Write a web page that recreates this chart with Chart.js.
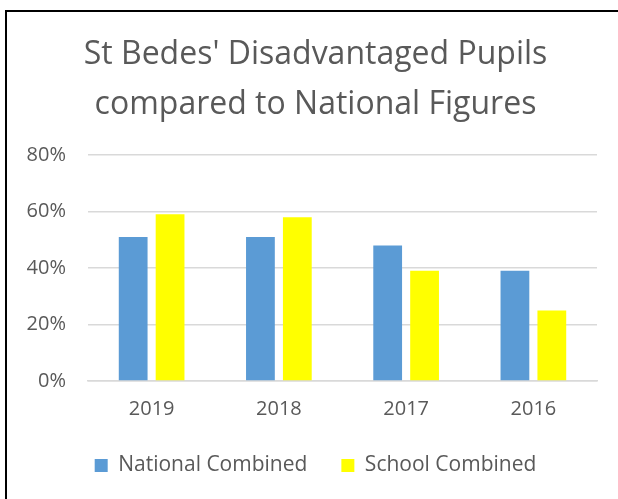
<!DOCTYPE html>
<html>
<head>
<meta charset="utf-8">
<script src="https://cdn.jsdelivr.net/npm/chart.js@4.4.1/dist/chart.umd.min.js"></script>
<style>
  html, body { margin: 0; padding: 0; background: #fff; overflow: hidden; }
  #frame { position: absolute; left: 5px; top: 10px; width: 700px; height: 600px; border: 2px solid #000; }
  #chart { position: absolute; left: 0; top: 0; }
</style>
</head>
<body>
<div id="frame"></div>
<canvas id="chart" width="618" height="499"></canvas>
<script>
// Chart data
const titleLines = ["St Bedes' Disadvantaged Pupils", 'compared to National Figures'];
const years = ['2019', '2018', '2017', '2016'];
const nationalCombined = [51, 51, 48, 39];
const schoolCombined = [59, 58, 39, 25];
const yTicks = [0, 20, 40, 60, 80];

const textColor = '#595959';
const gridColor = '#d9d9d9';
const fontFamily = "'Open Sans', sans-serif";

new Chart(document.getElementById('chart'), {
  type: 'bar',
  data: {
    labels: years,
    datasets: [
      {
        label: 'National Combined',
        data: nationalCombined,
        backgroundColor: '#5B9BD5',
        categoryPercentage: 0.58,
        barPercentage: 0.78,
      },
      {
        label: 'School Combined',
        data: schoolCombined,
        backgroundColor: '#FFFF00',
        categoryPercentage: 0.58,
        barPercentage: 0.78,
      },
    ],
  },
  options: {
    responsive: false,
    devicePixelRatio: 1,
    animation: false,
    layout: { padding: { top: 10, left: 27, right: 14, bottom: 13 } },
    plugins: {
      title: {
        display: true,
        text: titleLines,
        color: textColor,
        font: { family: fontFamily, size: 32, weight: 'normal', lineHeight: 1.5625 },
        padding: { top: 20, bottom: 25 },
      },
      legend: {
        position: 'bottom',
        labels: {
          color: textColor,
          font: { family: fontFamily, size: 21 },
          boxWidth: 13,
          boxHeight: 13,
          padding: 34,
        },
      },
      tooltip: { enabled: false },
    },
    scales: {
      x: {
        grid: { display: false, drawTicks: false },
        border: { color: gridColor, width: 1.5 },
        ticks: { color: textColor, font: { family: fontFamily, size: 20 }, padding: 16 },
        afterFit: (scale) => { scale.height = 40; },
      },
      y: {
        min: yTicks[0],
        max: yTicks[yTicks.length - 1],
        grid: { color: gridColor, lineWidth: 1.5, drawTicks: false },
        border: { display: false },
        ticks: {
          stepSize: 20,
          color: textColor,
          font: { family: fontFamily, size: 20 },
          padding: 22,
          callback: (v) => v + '%',
        },
        afterFit: (scale) => { scale.width = 61; },
      },
      yRight: {
        position: 'right',
        display: true,
        grid: { display: false },
        border: { display: false },
        ticks: { display: false },
        afterFit: (scale) => { scale.width = 7; },
      },
    },
  },
});
</script>
</body>
</html>
